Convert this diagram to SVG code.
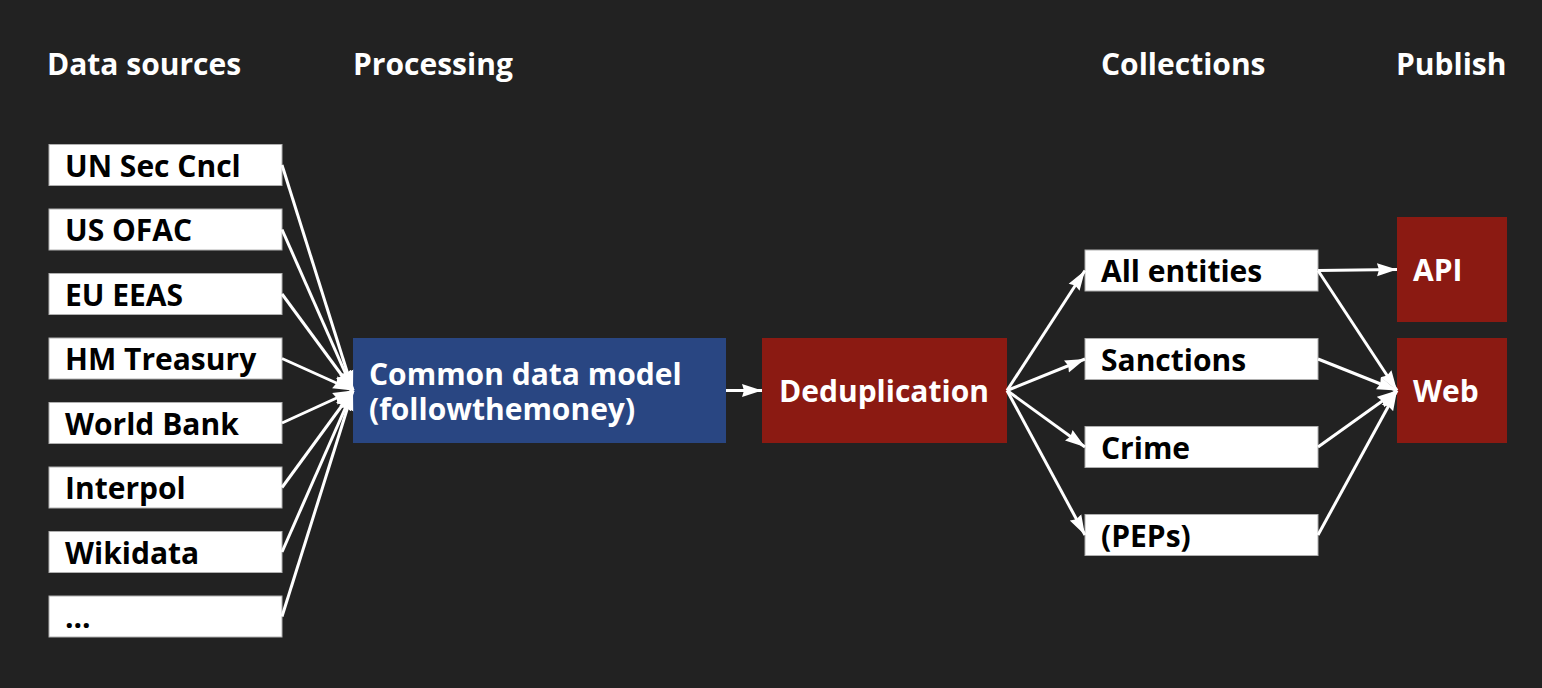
<svg xmlns="http://www.w3.org/2000/svg" width="1542" height="688" viewBox="0 0 1542 688">
<style>
text{font-family:"Open Sans","Noto Sans","Liberation Sans",sans-serif;font-weight:700;font-size:30px}
.hdr{fill:#ffffff}
.wbox{fill:#ffffff;stroke:#b0b0b0;stroke-width:1}
.wt{fill:#000000}
.rbox{fill:#8b1a12}
.bbox{fill:#294682}
.lt{fill:#ffffff}
.conn line{stroke:#ffffff;stroke-width:3;marker-end:url(#ah)}
</style>
<defs>
<marker id="ah" markerUnits="userSpaceOnUse" markerWidth="22" markerHeight="14" refX="20" refY="7" orient="auto">
<path d="M0,0.5 L20,7 L0,13.5 L2,7 Z" fill="#ffffff"/>
</marker>
</defs>
<rect width="1542" height="688" fill="#222222"/>
<g id="headers">
<text class="hdr" x="47" y="75">Data sources</text>
<text class="hdr" x="353" y="75">Processing</text>
<text class="hdr" x="1101" y="75">Collections</text>
<text class="hdr" x="1396" y="75">Publish</text>
</g>
<g id="src-un"><rect class="wbox" x="49" y="144.5" width="233" height="41"/><text class="wt" x="65" y="176.5">UN Sec Cncl</text></g>
<g id="src-ofac"><rect class="wbox" x="49" y="209" width="233" height="41"/><text class="wt" x="65" y="241">US OFAC</text></g>
<g id="src-eeas"><rect class="wbox" x="49" y="273.5" width="233" height="41"/><text class="wt" x="65" y="305.5">EU EEAS</text></g>
<g id="src-hmt"><rect class="wbox" x="49" y="338" width="233" height="41"/><text class="wt" x="65" y="370">HM Treasury</text></g>
<g id="src-wb"><rect class="wbox" x="49" y="402.5" width="233" height="41"/><text class="wt" x="65" y="434.5">World Bank</text></g>
<g id="src-interpol"><rect class="wbox" x="49" y="467" width="233" height="41"/><text class="wt" x="65" y="499">Interpol</text></g>
<g id="src-wikidata"><rect class="wbox" x="49" y="531.5" width="233" height="41"/><text class="wt" x="65" y="563.5">Wikidata</text></g>
<g id="src-more"><rect class="wbox" x="49" y="596" width="233" height="41"/><text class="wt" x="65" y="628">...</text></g>
<g id="cdm"><rect class="bbox" x="353" y="338" width="373" height="105"/><text class="lt" x="369" y="385"><tspan x="369" y="385">Common data model</tspan><tspan x="369" y="420">(followthemoney)</tspan></text></g>
<g id="dedup"><rect class="rbox" x="762" y="338" width="245" height="105"/><text class="lt" x="779" y="402">Deduplication</text></g>
<g id="col-all"><rect class="wbox" x="1085" y="250" width="233" height="41"/><text class="wt" x="1101" y="282">All entities</text></g>
<g id="col-sanctions"><rect class="wbox" x="1085" y="338.5" width="233" height="41"/><text class="wt" x="1101" y="370.5">Sanctions</text></g>
<g id="col-crime"><rect class="wbox" x="1085" y="426.5" width="233" height="41"/><text class="wt" x="1101" y="458.5">Crime</text></g>
<g id="col-peps"><rect class="wbox" x="1085" y="514.5" width="233" height="41"/><text class="wt" x="1101" y="546.5">(PEPs)</text></g>
<g id="pub-api"><rect class="rbox" x="1397" y="217" width="110" height="105"/><text class="lt" x="1413" y="281">API</text></g>
<g id="pub-web"><rect class="rbox" x="1397" y="338" width="110" height="105"/><text class="lt" x="1413" y="402">Web</text></g>
<g id="connectors" class="conn">
<line x1="282" y1="165" x2="353" y2="390.5"/>
<line x1="282" y1="229.5" x2="353" y2="390.5"/>
<line x1="282" y1="294" x2="353" y2="390.5"/>
<line x1="282" y1="358.5" x2="353" y2="390.5"/>
<line x1="282" y1="423" x2="353" y2="390.5"/>
<line x1="282" y1="487.5" x2="353" y2="390.5"/>
<line x1="282" y1="552" x2="353" y2="390.5"/>
<line x1="282" y1="616.5" x2="353" y2="390.5"/>
<line x1="726" y1="390.5" x2="762" y2="390.5"/>
<line x1="1007" y1="390.5" x2="1085" y2="270.5"/>
<line x1="1007" y1="390.5" x2="1085" y2="359"/>
<line x1="1007" y1="390.5" x2="1085" y2="447"/>
<line x1="1007" y1="390.5" x2="1085" y2="535"/>
<line x1="1318" y1="270.5" x2="1397" y2="269.5"/>
<line x1="1318" y1="270.5" x2="1397" y2="390.5"/>
<line x1="1318" y1="359" x2="1397" y2="390.5"/>
<line x1="1318" y1="447" x2="1397" y2="390.5"/>
<line x1="1318" y1="535" x2="1397" y2="390.5"/>
</g>
</svg>
